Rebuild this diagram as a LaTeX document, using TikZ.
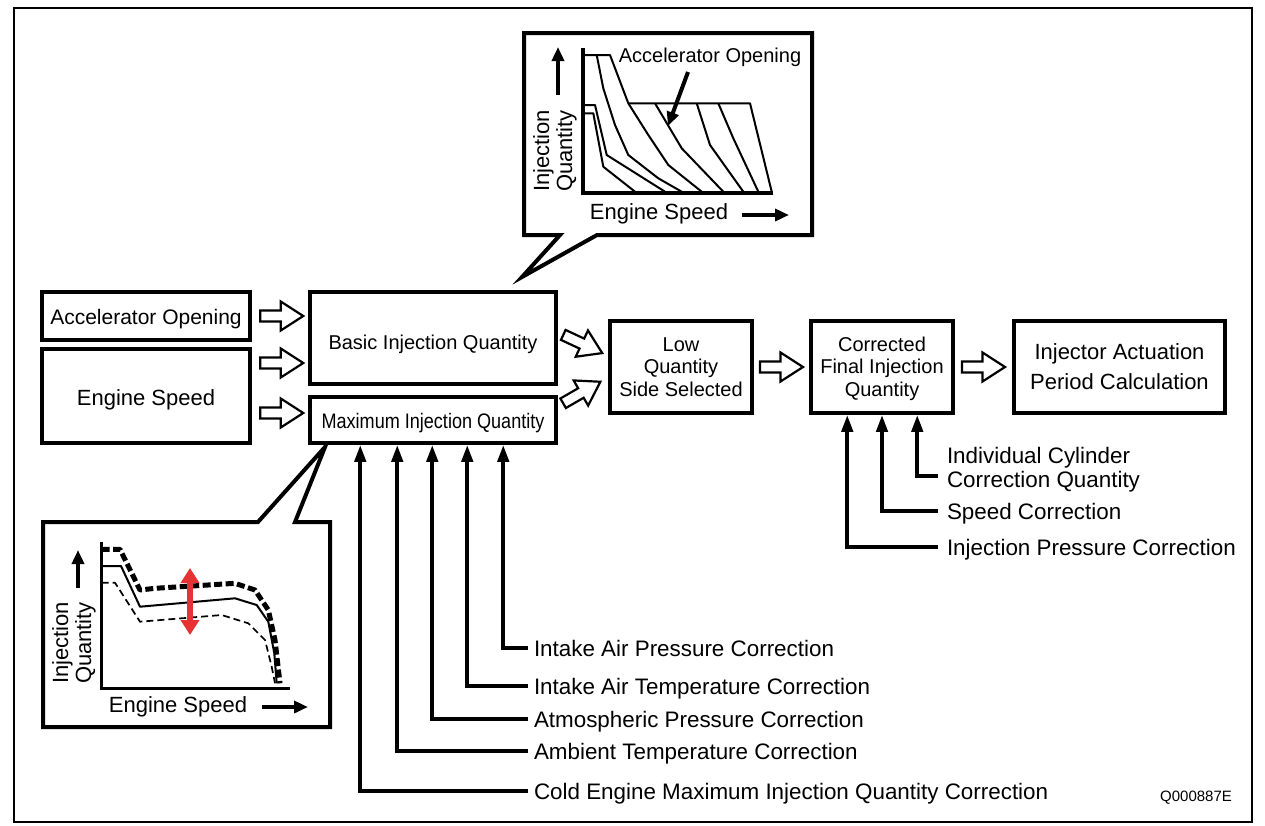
\documentclass[tikz,border=0pt]{standalone}
\usepackage{fontspec}
\setmainfont{Liberation Sans}
\usepackage{graphicx}
\usetikzlibrary{arrows.meta,calc}
\newcommand\fsz[2]{\fontsize{#1}{#2}\selectfont}
\newcommand\lowered[2]{\raisebox{-#1}[\height][\depth]{\begin{tabular}{@{}c@{}}#2\end{tabular}}}
\definecolor{arrowred}{RGB}{230,50,50}
\begin{document}
\begin{tikzpicture}[x=1pt,y=-1pt,
  box/.style={draw, line width=3.5pt, inner sep=0pt, align=center, fill=white},
  lab/.style={anchor=west, inner xsep=6pt, inner ysep=0pt, outer sep=0pt,
              font=\fsz{22.4}{25}, text height=16pt, text depth=0pt},
  corrarrow/.style={line width=4pt, -{Triangle[length=17pt,width=11pt]}},
  thickarrow/.style={line width=4pt, -{Triangle[length=14pt,width=12pt]}},
  axisline/.style={line width=3.5pt, line join=miter},
  curveline/.style={line width=2pt, line join=round},
  callout/.style={draw, line width=4pt, line join=miter, fill=white},
  graphtext/.style={font=\fsz{22}{23}, inner sep=0pt, align=center},
  harrow/.pic={\draw[line width=2.2pt, line join=miter, fill=white]
     (-21.5,-5.5) -- (-1,-5.5) -- (-1,-14.5) -- (21.5,0) -- (-1,14.5) -- (-1,5.5) -- (-21.5,5.5) -- cycle;}
]
\useasboundingbox (0,0) rectangle (1265,825);
\draw[line width=1.5pt] (14,8) rectangle (1252,822);

% ---------- top callout ----------
\draw[callout] (524,33) -- (812,33) -- (812,235) -- (597,235) -- (522,277) -- (560,235) -- (524,235) -- cycle;
\draw[axisline] (583,48) -- (583,193) -- (773,193);
\draw[curveline] (585,55) -- (610,55) -- (628.3,103.3) -- (648.3,135) -- (668.3,165) -- (701.7,191.7);
\draw[curveline] (596.7,55) -- (603.3,88.3) -- (615,125) -- (628.3,155) -- (658.3,178.3) -- (681.7,191.7);
\draw[curveline] (585,113.3) -- (593.3,113.3) -- (603.3,166.7) -- (635,191.7);
\draw[curveline] (585,105) -- (595,105) -- (606.7,155) -- (665,191.7);
\draw[curveline] (628.3,103.3) -- (750,103.3) -- (771.7,191.7);
\draw[curveline] (655,103.3) -- (681.7,148.3) -- (723.3,191.7);
\draw[curveline] (696.7,103.3) -- (710,145) -- (743.3,191.7);
\draw[curveline] (718.3,103.3) -- (733.3,138.3) -- (758.3,191.7);
\node[graphtext, font=\fsz{20}{22}] (tacc) at (710,57) {Accelerator Opening};
\draw[thickarrow] (688,72) -- (668,126);
\draw[thickarrow] (558,95) -- (558,47);
\node[graphtext, rotate=90] (tiq) at (555,151) {Injection\\Quantity};
\node[graphtext] (tes) at (659,214) {Engine Speed};
\draw[thickarrow] (742,215) -- (789,215);

% ---------- bottom callout ----------
\draw[callout] (43,522) -- (258,522) -- (325,447) -- (295,522) -- (330,522) -- (330,727) -- (43,727) -- cycle;
\draw[axisline] (101.7,541.7) -- (101.7,688.3) -- (290,688.3);
\draw[line width=5pt, dash pattern=on 8pt off 3.5pt, line join=round]
  (101.7,549.3) -- (120,549.3) -- (140,590) -- (155,588.3) -- (235,583.3) -- (255,590) -- (268.3,610) -- (275,640) -- (280,683.3);
\draw[curveline]
  (101.7,566) -- (121,566) -- (140,606.7) -- (235,598.3) -- (256.7,605) -- (268.3,621.7) -- (274.3,653.3) -- (276.7,683.3);
\draw[line width=1.7pt, dash pattern=on 7pt off 4pt, line join=round]
  (101.7,582.7) -- (115,582.7) -- (140,621.7) -- (221.7,615) -- (248.3,623.3) -- (265,640) -- (271.7,666.7) -- (275,683.3);
\draw[line width=6pt, arrowred, {Triangle[length=15pt,width=18pt]}-{Triangle[length=15pt,width=18pt]}] (190,568) -- (190,635);
\draw[thickarrow] (78,588) -- (78,550);
\node[graphtext, rotate=90] (biq) at (74,643) {Injection\\Quantity};
\node[graphtext] (bes) at (178,707) {Engine Speed};
\draw[thickarrow] (262,707) -- (308,707);

% ---------- main boxes ----------
\node[box, minimum width=208pt, minimum height=48pt, font=\fsz{21}{24}, text height=17pt, text depth=0pt] (acc) at (146,316) {Accelerator Opening};
\node[box, minimum width=208pt, minimum height=94pt, font=\fsz{22}{24}, text height=18pt, text depth=0pt] (eng) at (146,396) {Engine Speed};
\node[box, minimum width=246pt, minimum height=92pt, font=\fsz{20}{23}, text height=23pt, text depth=0pt] (basic) at (433,338) {Basic Injection Quantity};
\node[box, minimum width=246pt, minimum height=46pt, font=\fsz{21}{23}, text height=17pt, text depth=0pt] (max) at (433,420) {\scalebox{0.86}[1]{Maximum Injection Quantity}};
\node[box, minimum width=142pt, minimum height=92pt, font=\fsz{20}{22.5}] (low) at (681,367) {\lowered{2pt}{Low\\Quantity\\Side Selected}};
\node[box, minimum width=142pt, minimum height=92pt, font=\fsz{20}{22.5}] (corr) at (882,367) {\lowered{2pt}{Corrected\\Final Injection\\Quantity}};
\node[box, minimum width=211pt, minimum height=92pt, font=\fsz{22}{30}] (inj) at (1119.5,367) {\lowered{1pt}{Injector Actuation\\Period Calculation}};

% ---------- hollow arrows ----------
\pic at ($(acc.east)+(30,0)$) {harrow};
\pic at ($(eng.east)+(30,-33)$) {harrow};
\pic at ($(eng.east)+(30,17)$) {harrow};
\pic[rotate=-25] at ($(basic.east)+(25,6)$) {harrow};
\pic[rotate=30] at ($(max.east)+(24,-27.5)$) {harrow};
\pic at ($(low.east)!0.5!(corr.west)$) {harrow};
\pic at ($(corr.east)!0.5!(inj.west)$) {harrow};

% ---------- corrections to maximum quantity ----------
\node[lab] (l1) at (528,648) {Intake Air Pressure Correction};
\node[lab] (l2) at (528,686) {Intake Air Temperature Correction};
\node[lab] (l3) at (528,719) {Atmospheric Pressure Correction};
\node[lab] (l4) at (528,751) {Ambient Temperature Correction};
\node[lab] (l5) at (528,791) {Cold Engine Maximum Injection Quantity Correction};
\draw[corrarrow] (l1.west) -| ($(max.south west)+(195,0)$);
\draw[corrarrow] (l2.west) -| ($(max.south west)+(159,0)$);
\draw[corrarrow] (l3.west) -| ($(max.south west)+(124,0)$);
\draw[corrarrow] (l4.west) -| ($(max.south west)+(89,0)$);
\draw[corrarrow] (l5.west) -| ($(max.south west)+(52,0)$);

% ---------- corrections to final quantity ----------
\node[lab, inner xsep=9pt] (r1a) at (938,455) {Individual Cylinder};
\node[lab, inner xsep=9pt] (r1b) at (938,479) {Correction Quantity};
\node[lab, inner xsep=9pt] (r2) at (938,511) {Speed Correction};
\node[lab, inner xsep=9pt] (r3) at (938,547) {Injection Pressure Correction};
\draw[corrarrow] ($(r1b.west)+(0,-3)$) -| ($(corr.south west)+(108,0)$);
\draw[corrarrow] (r2.west) -| (corr.south);
\draw[corrarrow] (r3.west) -| ($(corr.south west)+(38,0)$);

\node[font=\fsz{15}{17}, inner sep=0pt] (code) at (1196,798) {Q000887E};
\end{tikzpicture}
\end{document}
